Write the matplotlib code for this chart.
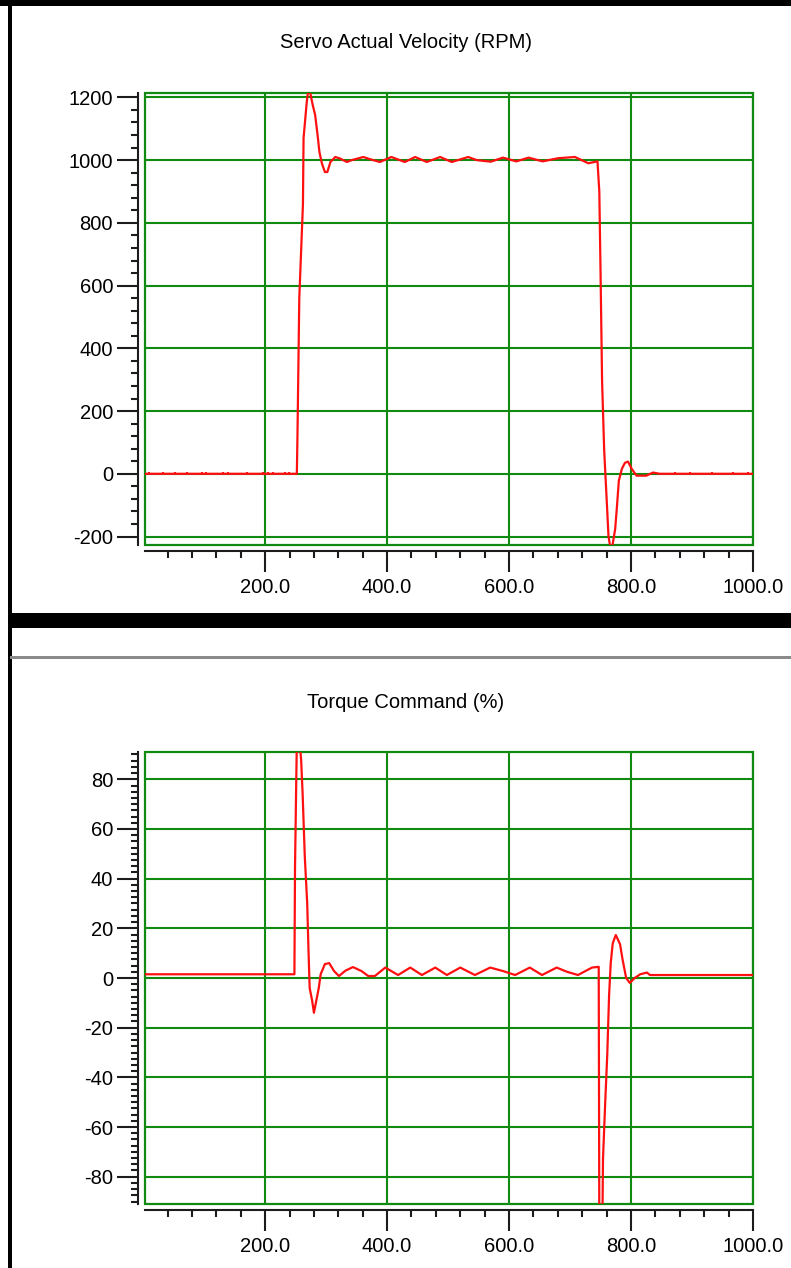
import numpy as np
import matplotlib
matplotlib.use('Agg')
import matplotlib.pyplot as plt
from matplotlib.patches import Rectangle
from matplotlib.ticker import MultipleLocator, FormatStrFormatter, FixedLocator

plt.rcParams['font.family'] = ['Liberation Sans', 'DejaVu Sans']
plt.rcParams['axes.unicode_minus'] = False

# Servo actual velocity (RPM)
vel_t = [3, 252, 253, 256, 262, 263, 268, 271, 274, 278, 282, 286, 289, 293, 298, 302,
         307, 315, 323, 334, 342, 361, 372, 388, 407, 429, 446, 465, 487, 506, 533, 547,
         570, 590, 612, 632, 655, 680, 708, 730, 745, 748, 750, 752.5, 756, 760, 763,
         766, 769, 774, 777, 780, 785, 790, 795, 801, 809, 825, 836, 847, 1000]
vel_v = [0, 0, 120, 560, 860, 1070, 1180, 1230, 1214, 1176, 1144, 1080, 1026, 990, 962, 962,
         994, 1010, 1005, 994, 1000, 1010, 1003, 994, 1010, 994, 1010, 994, 1010, 994, 1010, 1000,
         995, 1008, 996, 1008, 996, 1006, 1010, 990, 996, 899, 643, 297, 73, -80, -198,
         -235, -235, -176, -102, -22, 16, 35, 39, 16, -6, -6, 4, 0, 0]
# small single-sample blips on the zero line
blip_t = [10, 33, 52, 72, 97, 103, 131, 139, 170, 197, 205, 213, 233, 239,
          839, 872, 897, 933, 967, 992]
blip_v = [6, 6, 6, 6, 6, 6, 6, 6, 6, 6, 6, 6, 6, 6,
          6, 6, 6, 6, 6, 6]

# Torque command (%)
torq_t = [3, 248, 249, 252, 256, 259, 261.5, 265, 269, 271, 273, 277, 280, 284, 288, 291,
          298, 305, 313, 321, 332, 344, 358, 369, 380, 397, 418, 438, 457, 479, 498, 520,
          544, 569, 590, 610, 634, 654, 678, 695, 713, 736, 747, 748, 753, 754, 757.5,
          761, 764, 766.7, 770, 775, 782, 786, 792, 798, 806, 815, 826, 831, 1000]
torq_v = [1.5, 1.5, 44.6, 96, 96, 88, 74, 49, 30, 12, -4, -9, -14, -9, -4, 1.5,
          5.6, 6, 2.8, 0.8, 3, 4.4, 2.8, 0.8, 0.8, 4.2, 1.2, 4.2, 1.2, 4.2, 1.2, 4.2,
          1.2, 4.2, 2.8, 1.2, 4.2, 1.2, 4.2, 2.5, 1.2, 4.2, 4.5, -100, -100, -73, -51,
          -31, -7, 6, 14, 17.3, 13.6, 7.6, 0, -2, 0, 1.5, 2.2, 1.2, 1.2]

vel_title = 'Servo Actual Velocity (RPM)'
torq_title = 'Torque Command (%)'

W, H = 791, 1268
fig = plt.figure(figsize=(W / 100, H / 100), dpi=100)
fig.patch.set_facecolor('white')

green = '#118a11'
dark = '#1c1c1c'
red = '#ff1010'
fs = 14.5


def px(x0, y0, w, h):
    # figure fraction box from pixel coordinates (top-left origin)
    return [x0 / W, 1 - (y0 + h) / H, w / W, h / H]


def setup(ax, ylim, ymaj, ymin):
    ax.set_xlim(3, 1000)
    ax.set_ylim(*ylim)
    ax.xaxis.set_major_locator(FixedLocator([200, 400, 600, 800, 1000]))
    ax.xaxis.set_minor_locator(MultipleLocator(40))
    ax.yaxis.set_major_locator(MultipleLocator(ymaj))
    ax.yaxis.set_minor_locator(MultipleLocator(ymin))
    ax.xaxis.set_major_formatter(FormatStrFormatter('%.1f'))
    ax.yaxis.set_major_formatter(FormatStrFormatter('%d'))
    for s in ['top', 'right']:
        ax.spines[s].set_visible(False)
    ax.spines['left'].set_position(('outward', 5))
    ax.spines['bottom'].set_position(('outward', 4))
    for s in ['left', 'bottom']:
        ax.spines[s].set_color(dark)
        ax.spines[s].set_linewidth(1.5)
    ax.tick_params(which='major', length=15, width=1.5, color=dark, labelsize=fs, pad=3)
    ax.tick_params(which='minor', length=5, width=1.5, color=dark)
    ax.tick_params(axis='x', which='major', pad=5)
    ax.grid(True, which='major', color=green, linewidth=1.5)
    ax.set_axisbelow(True)
    ax.add_patch(Rectangle((0, 0), 1, 1, transform=ax.transAxes, fill=False,
                           edgecolor=green, linewidth=1.6, clip_on=False, zorder=3))


ax1 = fig.add_axes(px(145, 93, 608, 452))
setup(ax1, (-227, 1214), 200, 40)
ax1.plot(vel_t, vel_v, color=red, linewidth=1.6, zorder=4)
ax1.vlines(blip_t, 0, blip_v, color=red, linewidth=1.4, zorder=4)

ax2 = fig.add_axes(px(145, 752, 608, 452))
setup(ax2, (-91, 91), 20, 2.5)
ax2.plot(torq_t, torq_v, color=red, linewidth=1.6, zorder=4)

fig.text(406 / W, 1 - 43 / H, vel_title, ha='center', va='center', fontsize=fs)
fig.text(406 / W, 1 - 702 / H, torq_title, ha='center', va='center', fontsize=fs)

# window frame bits
fig.add_artist(Rectangle((0, 1 - 6 / H), 1, 6 / H, transform=fig.transFigure,
                         facecolor='black', edgecolor='none'))
fig.add_artist(Rectangle((8 / W, 0), 4 / W, 1, transform=fig.transFigure,
                         facecolor='black', edgecolor='none'))
fig.add_artist(Rectangle((10 / W, 1 - 628 / H), 1, 15 / H, transform=fig.transFigure,
                         facecolor='black', edgecolor='none'))
fig.add_artist(Rectangle((10 / W, 1 - 659 / H), 1, 3 / H, transform=fig.transFigure,
                         facecolor='#8a8a8a', edgecolor='none'))

fig.savefig('out.png', dpi=100)
